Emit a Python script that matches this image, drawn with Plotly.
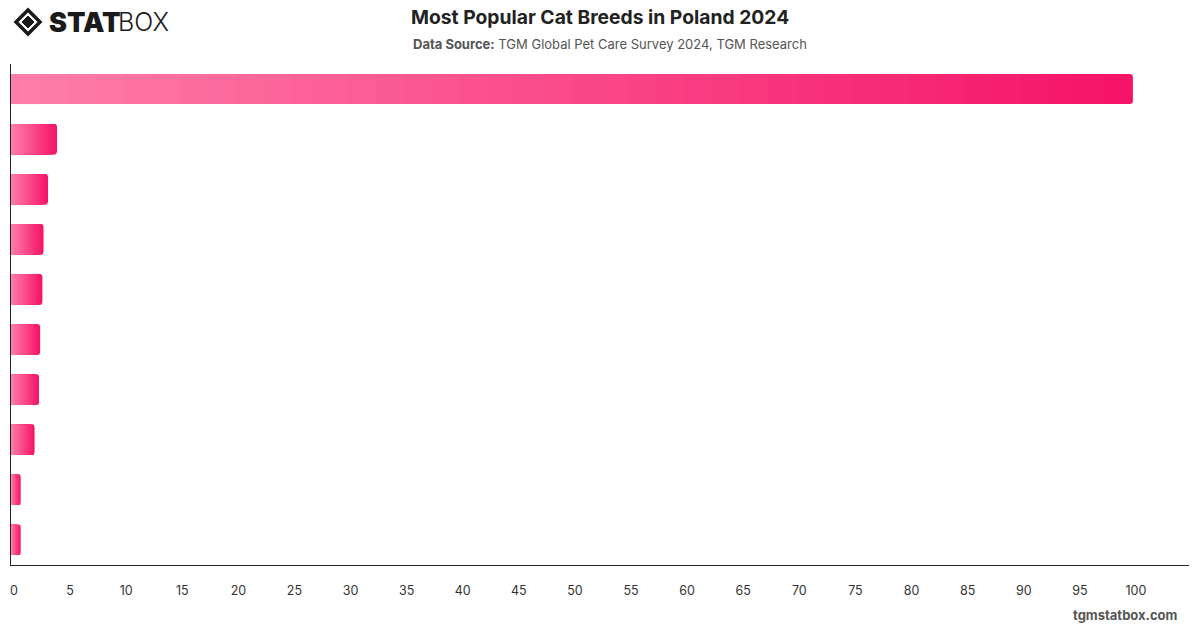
import plotly.graph_objects as go

# ---- data ----
categories = ["Breed 1", "Breed 2", "Breed 3", "Breed 4", "Breed 5",
              "Breed 6", "Breed 7", "Breed 8", "Breed 9", "Breed 10"]
values = [100, 4.1, 3.3, 2.9, 2.8, 2.6, 2.5, 2.1, 0.85, 0.85]
tick_values = list(range(0, 101, 5))

title_text = "Most Popular Cat Breeds in Poland 2024"
subtitle_text = "<b>Data Source:</b> TGM Global Pet Care Survey 2024, TGM Research"
footer_text = "tgmstatbox.com"

# gradient colours (light at base -> dark at bar end)
c_start = (255, 128, 170)
c_end = (245, 20, 104)
N_STEPS = 40

ML, MR, MT, MB = 11, 11, 64, 63
W, H = 1200, 628
pw = W - ML - MR
ph = H - MT - MB


def mix(t):
    r = round(c_start[0] + (c_end[0] - c_start[0]) * t)
    g = round(c_start[1] + (c_end[1] - c_start[1]) * t)
    b = round(c_start[2] + (c_end[2] - c_start[2]) * t)
    return f"rgb({r},{g},{b})"


def P(px, py):
    """pixel position -> paper coordinates"""
    return (px - ML) / pw, (H - MB - py) / ph


fig = go.Figure()

# simulate a horizontal gradient per bar with overlaid bars of decreasing length
for k in range(N_STEPS):
    frac = 1 - k / N_STEPS
    fig.add_trace(go.Bar(
        y=categories,
        x=[v * frac for v in values],
        orientation="h",
        marker=dict(color=mix(frac), line=dict(width=0), cornerradius=3 if k == 0 else 0),
        hoverinfo="skip" if k else "x+y",
        showlegend=False,
    ))


def ann(text, px, py, size, color, xanchor="center", family=None, weight=None):
    x, y = P(px, py)
    f = dict(size=size, color=color)
    if family:
        f["family"] = family
    if weight:
        f["weight"] = weight
    return dict(text=text, x=x, y=y, xref="paper", yref="paper", showarrow=False,
                font=f, xanchor=xanchor, yanchor="middle")


annotations = [
    ann(f"<b>{title_text}</b>", 600, 17, 19.3, "#222"),
    ann(subtitle_text, 610, 44, 13, "#555"),
    ann(f"<b>{footer_text}</b>", 1180, 615, 13, "#555", xanchor="right"),
    ann("STAT", 47, 22, 27, "#1a1a1a", xanchor="left", family="Inter", weight=900),
    ann("BOX", 116, 22, 25, "#1a1a1a", xanchor="left", family="Inter", weight=300),
]

fig.update_layout(
    width=W, height=H,
    barmode="overlay",
    bargap=0.4,
    plot_bgcolor="white",
    paper_bgcolor="white",
    margin=dict(l=ML, r=MR, t=MT, b=MB, autoexpand=False),
    font=dict(family="Inter, Roboto, sans-serif", color="#333"),
    xaxis=dict(
        range=[0, 105],
        tickvals=tick_values,
        showgrid=False,
        zeroline=False,
        showline=True,
        linecolor="#222",
        linewidth=1,
        ticks="",
        automargin=False,
        ticklabelstandoff=14,
        ticklabelshift=3,
        tickfont=dict(size=12.5, color="#333"),
    ),
    yaxis=dict(
        autorange="reversed",
        showticklabels=False,
        showgrid=False,
        zeroline=False,
        showline=True,
        linecolor="#222",
        linewidth=1,
        ticks="",
        automargin=False,
    ),
    annotations=annotations,
)

# logo icon (diamond)
cx, cy, r = 28, 22, 12
pts_outer = [P(cx, cy - r), P(cx + r, cy), P(cx, cy + r), P(cx - r, cy)]
path_outer = "M " + " L ".join(f"{x},{y}" for x, y in pts_outer) + " Z"
r2 = 6
pts_inner = [P(cx, cy - r2), P(cx + r2, cy), P(cx, cy + r2), P(cx - r2, cy)]
path_inner = "M " + " L ".join(f"{x},{y}" for x, y in pts_inner) + " Z"
fig.add_shape(type="path", path=path_outer, xref="paper", yref="paper",
              line=dict(color="#1a1a1a", width=3.5), fillcolor="white")
fig.add_shape(type="path", path=path_inner, xref="paper", yref="paper",
              line=dict(color="#1a1a1a", width=1), fillcolor="#1a1a1a")

fig.write_html("out.html")
